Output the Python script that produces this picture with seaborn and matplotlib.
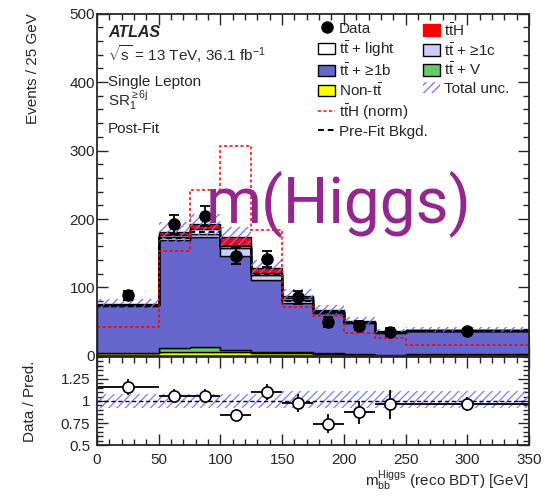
import numpy as np
import pandas as pd
import matplotlib
matplotlib.use("Agg")
import matplotlib.pyplot as plt
from matplotlib.patches import Patch
from matplotlib.lines import Line2D
from matplotlib.ticker import MultipleLocator, FixedLocator
import seaborn as sns

# Binning of the reconstructed Higgs mass (GeV); yields are events / 25 GeV
edges = [0, 50, 75, 100, 125, 150, 175, 200, 225, 250, 350]

# Post-fit process yields (bottom of the stack first)
non_tt = [4.0, 5.5, 6.0, 5.5, 4.5, 4.5, 3.0, 2.0, 1.5, 1.7]
tt_v = [1.0, 6.0, 7.5, 3.0, 1.5, 1.0, 1.0, 0.5, 0.5, 0.5]
tt_1b = [68.0, 158.5, 159.5, 137.5, 105.5, 72.5, 58.7, 46.1, 32.0, 33.8]
tt_1c = [1.0, 3.0, 5.0, 12.0, 7.0, 4.0, 1.5, 1.0, 0.7, 0.8]
tt_light = [1.0, 4.0, 7.0, 3.0, 2.0, 3.0, 1.0, 0.5, 0.5, 0.5]
tth = [1.5, 4.0, 7.5, 13.0, 8.0, 2.5, 1.4, 1.0, 0.7, 1.0]

# Overlays
tth_norm = [42.0, 153.0, 243.0, 307.0, 184.0, 71.5, 57.8, 34.0, 26.6, 15.4]
prefit_bkg = [75.0, 172.0, 181.0, 160.0, 119.0, 81.0, 64.0, 48.6, 34.0, 36.3]
data = [88.6, 192.0, 204.0, 146.0, 142.0, 85.5, 49.5, 44.5, 34.6, 37.0]

# Relative total uncertainty (up / down)
unc_up = [0.085, 0.08, 0.08, 0.08, 0.085, 0.11, 0.11, 0.11, 0.11, 0.11]
unc_dn = [0.085, 0.08, 0.08, 0.08, 0.085, 0.085, 0.085, 0.085, 0.085, 0.085]

TTB = r"$\mathrm{t\bar{t}}$"
proc_names = ["ttH", "light", "1c", "1b", "V", "non"]
proc_labels = {
    "ttH": TTB + "H",
    "light": TTB + " + light",
    "1c": TTB + " + \u22651c",
    "1b": TTB + " + \u22651b",
    "V": TTB + " + V",
    "non": "Non-" + TTB,
}
proc_colors = {
    "ttH": "#ff0000",
    "light": "#ffffff",
    "1c": "#ccccff",
    "1b": "#6666cc",
    "V": "#66cc66",
    "non": "#ffff00",
}
proc_values = {"ttH": tth, "light": tt_light, "1c": tt_1c, "1b": tt_1b,
               "V": tt_v, "non": non_tt}

sns.set_style("ticks")
plt.rcParams["font.family"] = ["Liberation Sans", "DejaVu Sans"]
plt.rcParams["mathtext.fontset"] = "custom"
plt.rcParams["mathtext.rm"] = "Liberation Sans"
plt.rcParams["mathtext.it"] = "Liberation Sans:italic"
plt.rcParams["mathtext.bf"] = "Liberation Sans:bold"
plt.rcParams["hatch.linewidth"] = 0.9

HATCH_MAIN = "#6f6fff"
HATCH_RATIO = "#7b7bff"

edges_a = np.array(edges, dtype=float)
centers = 0.5 * (edges_a[:-1] + edges_a[1:])
widths = np.diff(edges_a)
data_a = np.array(data)
data_err = np.sqrt(data_a * 25.0 / widths)
total = sum(np.array(v) for v in proc_values.values())
up = total * (1 + np.array(unc_up))
dn = total * (1 - np.array(unc_dn))

long = pd.DataFrame(
    [(c, proc_values[p][i], p) for p in proc_names for i, c in enumerate(centers)],
    columns=["mbb", "yield", "process"],
)

fig = plt.figure(figsize=(5.52, 4.99), dpi=100)
ax = fig.add_axes([0.1757, 0.2866, 0.7826, 0.6863])
rax = fig.add_axes([0.1757, 0.1082, 0.7826, 0.1764])

sns.histplot(
    data=long, x="mbb", weights="yield", hue="process", hue_order=proc_names,
    bins=edges, multiple="stack", element="step", fill=True,
    palette=proc_colors, alpha=1, edgecolor="black", linewidth=1.0,
    legend=False, ax=ax,
)

# hatched total uncertainty
ax.bar(centers, up - dn, width=widths, bottom=dn, fill=False, hatch="////",
       edgecolor=HATCH_MAIN, linewidth=0, zorder=4)

ax.stairs(prefit_bkg, edges, baseline=None, color="black", linewidth=1.4,
          linestyle=(0, (3, 2)), zorder=5)
ax.stairs(tth_norm, edges, baseline=None, color="red", linewidth=1.1,
          linestyle=(0, (2, 1.6)), zorder=5)

ax.errorbar(centers, data_a, yerr=data_err, fmt="o", color="black", ms=8,
            elinewidth=1.3, capsize=3.5, capthick=1.3, zorder=6)

ax.set_xlim(0, 350)
ax.set_ylim(0, 500)
ax.set_xlabel("")
ax.set_ylabel("")
ax.yaxis.set_major_locator(MultipleLocator(100))
ax.yaxis.set_minor_locator(MultipleLocator(20))
ax.xaxis.set_major_locator(MultipleLocator(50))
ax.xaxis.set_minor_locator(MultipleLocator(10))
ax.tick_params(which="both", direction="in", top=True, right=True,
               labelbottom=False, labelsize=11, width=1.0)
ax.tick_params(which="major", length=8, pad=1.5)
ax.tick_params(which="minor", length=4)

for a in (ax, rax):
    for s in a.spines.values():
        s.set_linewidth(1.3)
        s.set_zorder(10)

# Labels inside the main panel
tx = ax.transAxes
ax.text(0.0255, 0.930, "ATLAS", transform=tx, fontsize=11.5,
        fontweight="bold", fontstyle="italic", va="baseline")
ax.text(0.0255, 0.860, r"$\sqrt{\mathrm{s}}$ = 13 TeV, 36.1 fb$^{\mathrm{-1}}$",
        transform=tx, fontsize=11, va="baseline")
ax.text(0.0255, 0.788, "Single Lepton", transform=tx, fontsize=11, va="baseline")
ax.text(0.0255, 0.730, r"SR$_{\mathrm{1}}^{\geq\mathrm{6j}}$", transform=tx,
        fontsize=11, va="baseline")
ax.text(0.0255, 0.651, "Post-Fit", transform=tx, fontsize=11, va="baseline")

# Legend, two columns
col1 = [
    Line2D([], [], marker="o", color="black", ls="none", ms=8),
    Patch(facecolor=proc_colors["light"], edgecolor="black", lw=1),
    Patch(facecolor=proc_colors["1b"], edgecolor="black", lw=1),
    Patch(facecolor=proc_colors["non"], edgecolor="black", lw=1),
    Line2D([], [], color="red", lw=1.1, ls=(0, (2, 1.6))),
    Line2D([], [], color="black", lw=1.4, ls=(0, (3, 2))),
]
col1_labels = ["Data", proc_labels["light"], proc_labels["1b"],
               proc_labels["non"], TTB + "H (norm)", "Pre-Fit Bkgd."]
col2 = [
    Patch(facecolor=proc_colors["ttH"], edgecolor=proc_colors["ttH"], lw=1),
    Patch(facecolor=proc_colors["1c"], edgecolor="black", lw=1),
    Patch(facecolor=proc_colors["V"], edgecolor="black", lw=1),
    Patch(facecolor="none", edgecolor=HATCH_MAIN, hatch="////", lw=0),
]
col2_labels = [proc_labels["ttH"], proc_labels["1c"], proc_labels["V"],
               "Total unc."]
leg_kw = dict(frameon=False, fontsize=11, handlelength=1.1, handleheight=0.8,
              handletextpad=0.25, labelspacing=0.2, borderpad=0,
              borderaxespad=0, loc="upper left")
leg1 = ax.legend(col1, col1_labels, bbox_to_anchor=(0.512, 0.976), **leg_kw)
ax.add_artist(leg1)
ax.legend(col2, col2_labels, bbox_to_anchor=(0.755, 0.976), **leg_kw)

ax.text(0.56, 0.389, "m(Higgs)", transform=tx, fontsize=46, color="#94278f",
        family=["Roboto", "Liberation Sans"], fontweight="normal",
        ha="center", va="baseline", zorder=20)

# Ratio panel
ratio = data_a / total
ratio_err = data_err / total
rax.bar(centers, np.array(unc_up) + np.array(unc_dn), width=widths,
        bottom=1 - np.array(unc_dn), fill=False, hatch="////",
        edgecolor=HATCH_RATIO, linewidth=0, zorder=2)
rax.axhline(1.0, color="black", lw=1.0, ls=(0, (3, 2)), zorder=3)
rax.errorbar(centers, ratio, yerr=ratio_err, xerr=widths / 2, fmt="o",
             color="black", mfc="white", mec="black", mew=1.2, ms=8,
             elinewidth=1.3, capsize=0, zorder=4)
rax.set_xlim(0, 350)
rax.set_ylim(0.5, 1.5)
rax.yaxis.set_major_locator(FixedLocator([0.5, 0.75, 1.0, 1.25]))
rax.set_yticklabels(["0.5", "0.75", "1", "1.25"])
rax.yaxis.set_minor_locator(MultipleLocator(0.05))
rax.xaxis.set_major_locator(MultipleLocator(50))
rax.xaxis.set_minor_locator(MultipleLocator(10))
rax.tick_params(which="both", direction="in", top=True, right=True,
                labelsize=11, width=1.0)
rax.tick_params(which="major", length=8)
rax.tick_params(axis="y", which="major", pad=5)
rax.tick_params(axis="x", which="major", pad=6)
rax.tick_params(which="minor", length=4)

fig.text(33 / 552, 1 - 13.5 / 499, "Events / 25 GeV", rotation=90,
         ha="center", va="top", fontsize=11)
fig.text(30 / 552, 1 - 401 / 499, "Data / Pred.", rotation=90,
         ha="center", va="center", fontsize=11)
fig.text(528 / 552, 1 - 487 / 499,
         r"$\mathrm{m}_{\mathrm{bb}}^{\mathrm{Higgs}}$ (reco BDT) [GeV]",
         ha="right", va="baseline", fontsize=11)

fig.savefig("out.png", dpi=100)
